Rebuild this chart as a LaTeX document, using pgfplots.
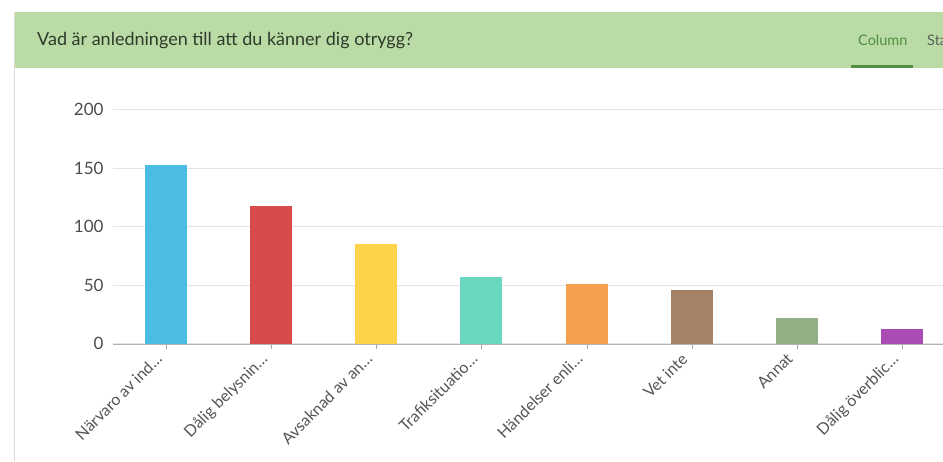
\documentclass[border=0pt]{standalone}
\usepackage{pgfplots}
\pgfplotsset{compat=1.18}
\usepackage{fontspec}
\setmainfont{Lato}

\definecolor{hdr}{HTML}{BADBA6}
\definecolor{hdrtxt}{HTML}{2E3A2A}
\definecolor{tabgreen}{HTML}{4F8F3F}
\definecolor{c1}{HTML}{4BBDE3}
\definecolor{c2}{HTML}{D94A4A}
\definecolor{c3}{HTML}{FDD34A}
\definecolor{c4}{HTML}{6AD8C0}
\definecolor{c5}{HTML}{F5A04C}
\definecolor{c6}{HTML}{A58266}
\definecolor{c7}{HTML}{92AE85}
\definecolor{c8}{HTML}{A94CB4}
\definecolor{lbl}{HTML}{555555}

\begin{document}
\begin{tikzpicture}[x=1pt,y=1pt]
\useasboundingbox (0,0) rectangle (943,461);
\begin{scope}
\clip (0,0) rectangle (943,461);
\fill[white] (0,0) rectangle (943,461);
% header band
\fill[hdr] (14,393) rectangle (943,449);
\draw[gray!30] (14,0) -- (14,449);
\node[anchor=base west, font=\fontsize{18}{20}\selectfont, text=hdrtxt, inner sep=0] at (37,415) {Vad är anledningen till att du känner dig otrygg?};
\node[anchor=base west, font=\fontsize{14.5}{16}\selectfont, text=tabgreen, inner sep=0] at (858,415) {Column};
\node[anchor=base west, font=\fontsize{14.5}{16}\selectfont, text=hdrtxt!80, inner sep=0] at (927,415) {Statistics};
\fill[tabgreen] (851,393) rectangle (913,396);

\begin{axis}[
    at={(157.9,100)}, anchor=origin,
    scale only axis, width=830pt, height=234.3pt,
    ymin=0, ymax=200, xmin=-0.504, xmax=7.39,
    axis x line*=bottom, axis y line*=left,
    y axis line style={draw=none},
    x axis line style={gray!60},
    ytick={0,50,100,150,200},
    ymajorgrids, grid style={gray!22, line width=0.8pt},
    major y tick style={draw=none},
    xtick={0,...,7},
    xtick align=outside, major tick length=5pt,
    major x tick style={gray!70},
    xticklabels={Närvaro av ind…, Dålig belysnin…, Avsaknad av an…, Trafiksituatio…, Händelser enli…, Vet inte, Annat, Dålig överblic…},
    x tick label style={rotate=45, anchor=north east, font=\fontsize{16}{18}\selectfont, text=lbl, inner sep=1pt, xshift=-9pt, yshift=7pt},
    y tick label style={font=\fontsize{17}{19}\selectfont, text=lbl!90!black, xshift=-6pt},
    /pgf/number format/assume math mode=true,
    ybar, bar width=42pt, bar shift=0pt,
    clip=true,
]
\addplot[fill=c1, draw=none] coordinates {(0,153)};
\addplot[fill=c2, draw=none] coordinates {(1,118)};
\addplot[fill=c3, draw=none] coordinates {(2,85)};
\addplot[fill=c4, draw=none] coordinates {(3,57)};
\addplot[fill=c5, draw=none] coordinates {(4,51)};
\addplot[fill=c6, draw=none] coordinates {(5,46)};
\addplot[fill=c7, draw=none] coordinates {(6,22)};
\addplot[fill=c8, draw=none] coordinates {(7,13)};
\end{axis}
\end{scope}
\end{tikzpicture}
\end{document}
